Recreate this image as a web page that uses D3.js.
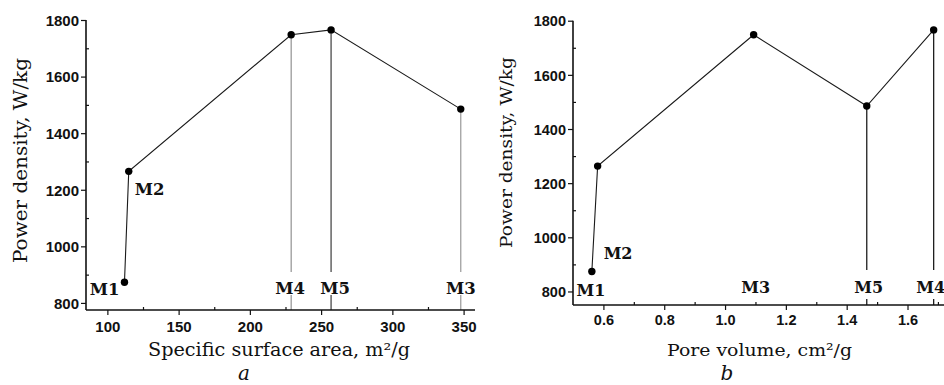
<!DOCTYPE html>
<html>
<head>
<meta charset="utf-8">
<script src="https://cdn.jsdelivr.net/npm/d3@7"></script>
<style>
  html, body { margin: 0; padding: 0; background: #fff; }
  svg { display: block; }
  .tick-label { font-family: "Liberation Sans", Arial, sans-serif; font-weight: bold; fill: #111; }
  .axis-title { font-family: "DejaVu Serif", serif; fill: #111; }
  .pt-label { font-family: "DejaVu Serif", serif; font-weight: bold; fill: #111; }
  .panel-tag { font-family: "DejaVu Serif", serif; font-style: italic; fill: #111; }
</style>
</head>
<body>
<svg id="chart" width="944" height="385"></svg>
<script>
// Panel a: power density vs specific surface area
const surfaceArea = [112, 115, 229, 257, 348];
const powerA = [873, 1265, 1748, 1765, 1485];
const samplesA = ["M1", "M2", "M4", "M5", "M3"];

// Panel b: power density vs pore volume
const poreVolume = [0.562, 0.581, 1.094, 1.466, 1.686];
const powerB = [874, 1263, 1748, 1485, 1766];
const samplesB = ["M1", "M2", "M3", "M5", "M4"];

// Axis ticks
const xTicksA = [100, 150, 200, 250, 300, 350];
const xMinorA = [125, 175, 225, 275, 325];
const xTicksB = [0.6, 0.8, 1.0, 1.2, 1.4, 1.6];
const xMinorB = [0.7, 0.9, 1.1, 1.3, 1.5, 1.7];
const yTicks = [800, 1000, 1200, 1400, 1600, 1800];
const yMinor = [900, 1100, 1300, 1500, 1700];

const svg = d3.select("#chart");

function drawPanel(p) {
  const x = d3.scaleLinear().domain(p.xDomain).range([p.left, p.right]);
  const y = d3.scaleLinear().domain(p.yDomain).range([p.bottom, p.top]);
  const g = svg.append("g");
  const pts = p.xs.map((v, i) => ({ x: v, y: p.ys[i], name: p.names[i] }));

  // drop lines from selected points to the x axis
  const drops = pts.map((d, i) => ({ ...d, color: p.dropColors[i] })).filter(d => d.color);
  g.selectAll("line.drop").data(drops).enter().append("line")
    .attr("x1", d => x(d.x)).attr("x2", d => x(d.x))
    .attr("y1", d => y(d.y)).attr("y2", p.bottom)
    .attr("stroke", d => d.color).attr("stroke-width", 1.3);

  // connecting line
  g.append("path").datum(pts)
    .attr("d", d3.line().x(d => x(d.x)).y(d => y(d.y)))
    .attr("fill", "none").attr("stroke", "#1a1a1a").attr("stroke-width", 1.1);

  // markers
  g.selectAll("circle").data(pts).enter().append("circle")
    .attr("cx", d => x(d.x)).attr("cy", d => y(d.y)).attr("r", 3.7).attr("fill", "#000");

  // point labels
  pts.forEach((d, i) => {
    const pl = p.place[i];
    let tx, ty;
    if (pl.axis) {
      tx = x(d.x) + pl.dx;
      ty = p.bottom + pl.dy;
      g.append("rect")
        .attr("x", tx - 17).attr("width", 34)
        .attr("y", ty - p.gap[0]).attr("height", p.gap[0] + p.gap[1])
        .attr("fill", "#fff");
    } else {
      tx = x(d.x) + pl.dx;
      ty = y(d.y) + pl.dy;
    }
    g.append("text").attr("class", "pt-label")
      .attr("x", tx).attr("y", ty)
      .attr("text-anchor", pl.anchor || "middle")
      .attr("font-size", p.labelSize)
      .text(d.name);
  });

  // axes
  const xAxis = g.append("g").attr("transform", `translate(0,${p.bottom})`)
    .call(d3.axisBottom(x).tickValues(p.xTicks).tickSize(5).tickFormat(p.xFmt));
  const xMin = g.append("g").attr("transform", `translate(0,${p.bottom})`)
    .call(d3.axisTop(x).tickValues(p.xMinor).tickSize(3).tickFormat(""));
  const yAxis = g.append("g").attr("transform", `translate(${p.left},0)`)
    .call(d3.axisLeft(y).tickValues(yTicks).tickSize(5).tickFormat(d3.format("d")));
  const yMin = g.append("g").attr("transform", `translate(${p.left},0)`)
    .call(d3.axisRight(y).tickValues(yMinor).tickSize(3).tickFormat(""));
  [xAxis, xMin, yAxis, yMin].forEach(a => {
    a.select(".domain").attr("stroke", "#111").attr("stroke-width", 1.6);
    a.selectAll(".tick line").attr("stroke", "#111").attr("stroke-width", 1.2);
  });
  [xMin, yMin].forEach(a => a.select(".domain").remove());
  xAxis.select(".domain").attr("d", `M${p.left},0H${p.right}`);
  yAxis.select(".domain").attr("d", `M0,${p.bottom}V${p.top}`);
  xAxis.selectAll(".tick text").attr("class", "tick-label")
    .attr("font-size", p.tickSize).attr("dy", 0).attr("y", p.xLabelOffset);
  yAxis.selectAll(".tick text").attr("class", "tick-label")
    .attr("font-size", p.tickSize).attr("x", -7).attr("dy", "0.36em");

  // axis titles
  g.append("text").attr("class", "axis-title")
    .attr("x", p.xTitle[0]).attr("y", p.xTitle[1])
    .attr("text-anchor", "middle").attr("font-size", p.titleSize)
    .attr("textLength", p.xTitle[2]).attr("lengthAdjust", "spacingAndGlyphs")
    .text(p.xLabel);
  g.append("text").attr("class", "axis-title")
    .attr("transform", `translate(${p.yTitle[0]},${p.yTitle[1]}) rotate(-90)`)
    .attr("text-anchor", "middle").attr("font-size", p.titleSize)
    .attr("textLength", p.yTitle[2]).attr("lengthAdjust", "spacingAndGlyphs")
    .text("Power density, W/kg");

  g.append("text").attr("class", "panel-tag")
    .attr("x", p.tag[0]).attr("y", p.tag[1])
    .attr("text-anchor", "middle").attr("font-size", 20)
    .text(p.tagText);
}

drawPanel({
  xs: surfaceArea, ys: powerA, names: samplesA,
  xDomain: [85, 358], yDomain: [775, 1800],
  left: 86, right: 475, top: 20, bottom: 310,
  xTicks: xTicksA, xMinor: xMinorA, xFmt: d3.format("d"),
  dropColors: [null, null, "#9a9a9a", "#4a4a4a", "#a0a0a0"],
  place: [
    { dx: -5, dy: 13, anchor: "end" },
    { dx: 6, dy: 24, anchor: "start" },
    { axis: true, dx: -1, dy: -16 },
    { axis: true, dx: 4, dy: -16 },
    { axis: true, dx: 0, dy: -16 }
  ],
  gap: [22, 1],
  labelSize: 16.5, tickSize: 15, titleSize: 18, xLabelOffset: 22,
  xLabel: "Specific surface area, m²/g",
  xTitle: [279, 356, 262], yTitle: [27, 160.5, 205],
  tag: [244, 380], tagText: "a"
});

drawPanel({
  xs: poreVolume, ys: powerB, names: samplesB,
  xDomain: [0.5, 1.72], yDomain: [750, 1800],
  left: 573, right: 944, top: 20.7, bottom: 305,
  xTicks: xTicksB, xMinor: xMinorB, xFmt: d3.format(".1f"),
  dropColors: [null, null, null, "#1e1e1e", "#1e1e1e"],
  place: [
    { dx: -1, dy: 25, anchor: "middle" },
    { dx: 6, dy: 93, anchor: "start" },
    { axis: true, dx: 2, dy: -12 },
    { axis: true, dx: 2, dy: -12 },
    { axis: true, dx: -3, dy: -12 }
  ],
  gap: [23, 6],
  labelSize: 16, tickSize: 14.5, titleSize: 17.5, xLabelOffset: 20,
  xLabel: "Pore volume, cm²/g",
  xTitle: [759.5, 355.5, 185], yTitle: [511.5, 152.5, 191],
  tag: [727, 380], tagText: "b"
});
</script>
</body>
</html>
